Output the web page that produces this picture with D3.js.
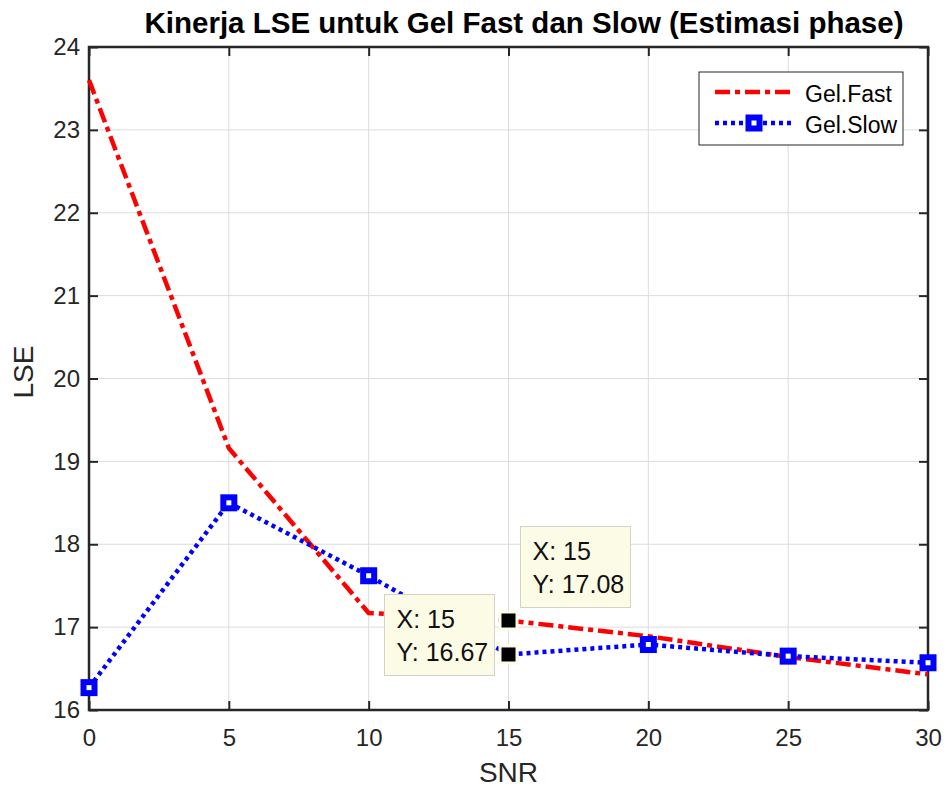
<!DOCTYPE html>
<html lang="en">
<head>
    <meta charset="UTF-8">
    <title>Kinerja LSE</title>
    <script src="https://d3js.org/d3.v7.min.js"></script>
    <style>
        body { margin: 0; background: #fff; }
        text { font-family: "Liberation Sans", Arial, sans-serif; }
    </style>
</head>
<body>
    <svg id="chart" width="948" height="788"></svg>
    <script>
        // data
        var snr = [0, 5, 10, 15, 20, 25, 30];
        var gelFast = [23.60, 19.16, 17.17, 17.08, 16.89, 16.64, 16.43];
        var gelSlow = [16.27, 18.50, 17.62, 16.67, 16.79, 16.65, 16.57];
        var xTicks = [0, 5, 10, 15, 20, 25, 30];
        var yTicks = [16, 17, 18, 19, 20, 21, 22, 23, 24];
        var tips = [
            { x: 15, y: 16.67, dx: -124, dy: -60 },
            { x: 15, y: 17.08, dx: 12, dy: -94 }
        ];

        var svg = d3.select("#chart");
        var pLeft = 89, pRight = 928, pTop = 47, pBottom = 710;

        var x = d3.scaleLinear().domain([0, 30]).range([pLeft, pRight]);
        var y = d3.scaleLinear().domain([16, 24]).range([pBottom, pTop]);

        // grid
        var grid = svg.append("g").attr("stroke", "#dcdcdc").attr("stroke-width", 1);
        grid.selectAll(".gx").data(xTicks.slice(1, -1)).join("line")
            .attr("x1", d => x(d)).attr("x2", d => x(d))
            .attr("y1", pTop).attr("y2", pBottom);
        grid.selectAll(".gy").data(yTicks.slice(1, -1)).join("line")
            .attr("y1", d => y(d)).attr("y2", d => y(d))
            .attr("x1", pLeft).attr("x2", pRight);

        // axes (ticks inside, box on)
        var axisColor = "#262626";
        function styleAxis(g) {
            g.select(".domain").remove();
            g.attr("font-size", null).attr("font-family", null);
            g.selectAll(".tick line").attr("stroke", axisColor).attr("stroke-width", 2);
            g.selectAll(".tick text").attr("fill", axisColor).style("font-size", "24px");
        }
        svg.append("g").attr("transform", "translate(0," + pBottom + ")")
            .call(d3.axisBottom(x).tickValues(xTicks).tickSizeInner(-9).tickPadding(19))
            .call(styleAxis);
        svg.append("g").attr("transform", "translate(0," + pTop + ")")
            .call(d3.axisTop(x).tickValues(xTicks).tickSizeInner(-9).tickFormat(""))
            .call(styleAxis);
        svg.append("g").attr("transform", "translate(" + pLeft + ",0)")
            .call(d3.axisLeft(y).tickValues(yTicks).tickSizeInner(-9).tickPadding(9))
            .call(styleAxis);
        svg.append("g").attr("transform", "translate(" + pRight + ",0)")
            .call(d3.axisRight(y).tickValues(yTicks).tickSizeInner(-9).tickFormat(""))
            .call(styleAxis);
        svg.append("rect").attr("x", pLeft).attr("y", pTop)
            .attr("width", pRight - pLeft).attr("height", pBottom - pTop)
            .attr("fill", "none").attr("stroke", axisColor).attr("stroke-width", 2.5);

        // lines
        var line = d3.line().x((d, i) => x(snr[i])).y(d => y(d));
        svg.append("path").datum(gelFast).attr("d", line)
            .attr("fill", "none").attr("stroke", "#ff0000").attr("stroke-width", 4.5)
            .attr("stroke-dasharray", "15,5,5,5");
        svg.append("path").datum(gelSlow).attr("d", line)
            .attr("fill", "none").attr("stroke", "#0000ff").attr("stroke-width", 4.5)
            .attr("stroke-dasharray", "4,4");

        function marker(g, cx, cy) {
            g.append("rect").attr("x", cx - 5.5).attr("y", cy - 5.5).attr("width", 11).attr("height", 11)
                .attr("fill", "#fff").attr("stroke", "#0000ff").attr("stroke-width", 6);
        }
        var mk = svg.append("g");
        gelSlow.forEach(function (d, i) { marker(mk, x(snr[i]), y(d)); });

        // data tips
        tips.forEach(function (t) {
            var px = x(t.x), py = y(t.y);
            var g = svg.append("g");
            g.append("rect").attr("x", px - 10).attr("y", py - 10).attr("width", 20).attr("height", 20)
                .attr("fill", "#fbfbe6");
            g.append("rect").attr("x", px - 7).attr("y", py - 7).attr("width", 14).attr("height", 14)
                .attr("fill", "#000");
            var bx = px + t.dx, by = py + t.dy;
            g.append("rect").attr("x", bx).attr("y", by).attr("width", 110).attr("height", 81)
                .attr("fill", "#fbfbe6").attr("stroke", "#d2d2c8").attr("stroke-width", 1);
            g.append("text").attr("x", bx + 12).attr("y", by + 34).attr("fill", "#111")
                .style("font-size", "25px").text("X: " + t.x);
            g.append("text").attr("x", bx + 12).attr("y", by + 67).attr("fill", "#111")
                .style("font-size", "25px").text("Y: " + t.y.toFixed(2));
        });

        // legend
        var lg = svg.append("g").attr("transform", "translate(699,72)");
        lg.append("rect").attr("width", 204).attr("height", 73)
            .attr("fill", "#fff").attr("stroke", "#262626").attr("stroke-width", 1);
        lg.append("line").attr("x1", 16).attr("x2", 93).attr("y1", 20).attr("y2", 20)
            .attr("stroke", "#ff0000").attr("stroke-width", 4.5).attr("stroke-dasharray", "15,5,5,5");
        lg.append("line").attr("x1", 16).attr("x2", 93).attr("y1", 51).attr("y2", 51)
            .attr("stroke", "#0000ff").attr("stroke-width", 4.5).attr("stroke-dasharray", "4,4");
        marker(lg, 55, 51);
        lg.append("text").attr("x", 106).attr("y", 30).style("font-size", "23px").attr("fill", "#000").text("Gel.Fast");
        lg.append("text").attr("x", 106).attr("y", 61).style("font-size", "23px").attr("fill", "#000").text("Gel.Slow");

        // titles
        svg.append("text").attr("x", 524).attr("y", 33).attr("text-anchor", "middle")
            .style("font-size", "29.5px").style("font-weight", "bold").attr("fill", "#000")
            .text("Kinerja LSE untuk Gel Fast dan Slow (Estimasi phase)");
        svg.append("text").attr("x", (pLeft + pRight) / 2).attr("y", 782).attr("text-anchor", "middle")
            .style("font-size", "28px").attr("fill", axisColor).text("SNR");
        svg.append("text").attr("transform", "translate(33,372) rotate(-90)")
            .attr("text-anchor", "middle").style("font-size", "28px").attr("fill", axisColor).text("LSE");
    </script>
</body>
</html>
